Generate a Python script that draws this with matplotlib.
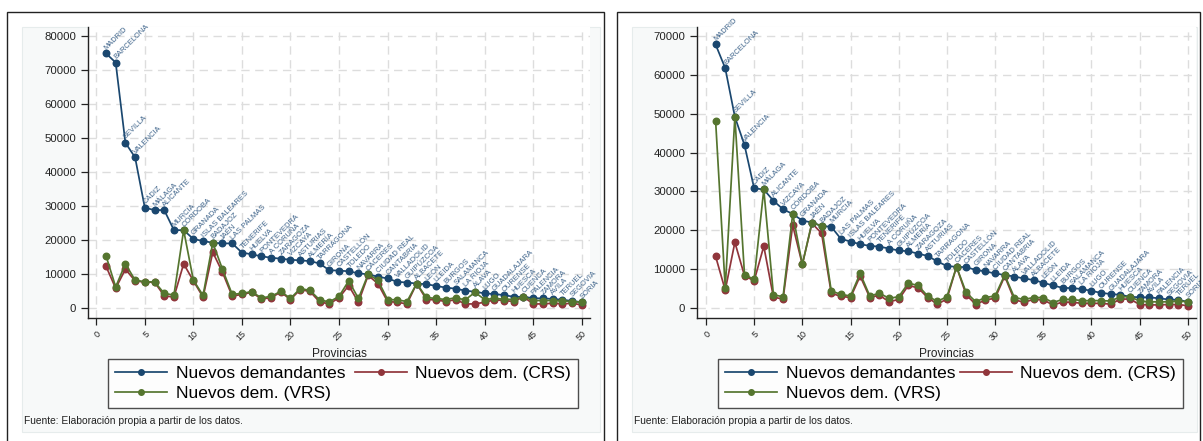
import matplotlib
matplotlib.use("Agg")
import matplotlib.pyplot as plt
from matplotlib.patches import Rectangle

plt.rcParams['font.family'] = ['Liberation Sans', 'DejaVu Sans']

# ---- Data: left panel ----
left_provinces = ["MADRID", "BARCELONA", "SEVILLA", "VALENCIA", "CÁDIZ", "MÁLAGA", "ALICANTE",
                  "MURCIA", "CÓRDOBA", "GRANADA", "ISLAS BALEARES", "BADAJOZ", "JAÉN", "LAS PALMAS",
                  "TENERIFE", "HUELVA", "PONTEVEDRA", "A CORUÑA", "ZARAGOZA", "VIZCAYA", "ASTURIAS",
                  "ALMERÍA", "TARRAGONA", "GIRONA", "CASTELLÓN", "TOLEDO", "NAVARRA", "CÁCERES",
                  "CIUDAD REAL", "CANTABRIA", "VALLADOLID", "GUIPÚZCOA", "ALBACETE", "LEÓN", "LLEIDA",
                  "BURGOS", "SALAMANCA", "LA RIOJA", "ÁLAVA", "LUGO", "GUADALAJARA", "OURENSE",
                  "HUESCA", "CUENCA", "PALENCIA", "ZAMORA", "ÁVILA", "TERUEL", "SEGOVIA", "SORIA"]
left_demandantes = [74900, 72200, 48600, 44300, 29500, 28800, 28800, 22900, 22900, 20300,
                    19700, 19200, 19000, 19000, 16300, 15800, 15200, 14800, 14500, 14200,
                    14000, 13800, 13100, 11100, 11000, 10800, 10200, 9900, 9200, 8700,
                    7700, 7500, 7200, 7000, 6500, 6000, 5700, 5100, 4800, 4300,
                    4100, 3800, 3300, 3300, 2900, 2800, 2700, 2400, 2100, 1700]
left_crs = [12300, 5800, 11400, 8000, 7600, 7600, 3600, 3200, 13000, 8000,
            3200, 16400, 10500, 3500, 4000, 4600, 2700, 3000, 4700, 2500,
            5400, 4900, 1800, 1200, 3000, 6600, 1700, 9600, 7200, 1900,
            1700, 1200, 7200, 2500, 2400, 1900, 2500, 1200, 1200, 1700,
            2400, 2200, 1900, 3300, 1200, 1200, 1400, 1200, 1400, 900]
left_vrs = [15400, 6200, 13000, 8200, 7700, 7700, 4300, 3800, 22900, 8200,
            3700, 19200, 11400, 4000, 4300, 4800, 3000, 3400, 4900, 2800,
            5700, 5200, 2400, 1800, 3400, 8000, 2800, 9900, 8200, 2500,
            2400, 1900, 7200, 3100, 2800, 2500, 3000, 2400, 4600, 2500,
            2800, 2600, 2500, 3300, 2200, 2200, 2200, 2100, 1900, 1700]

# ---- Data: right panel ----
right_provinces = ["MADRID", "BARCELONA", "SEVILLA", "VALENCIA", "CÁDIZ", "MÁLAGA", "ALICANTE",
                   "VIZCAYA", "CÓRDOBA", "GRANADA", "JAÉN", "BADAJOZ", "MURCIA", "LAS PALMAS",
                   "ISLAS BALEARES", "HUELVA", "PONTEVEDRA", "TENERIFE", "A CORUÑA", "GUIPÚZCOA",
                   "ALMERÍA", "ZARAGOZA", "ASTURIAS", "TARRAGONA", "TOLEDO", "CÁCERES", "CASTELLÓN",
                   "GIRONA", "NAVARRA", "CIUDAD REAL", "CANTABRIA", "ÁLAVA", "VALLADOLID", "ALBACETE",
                   "LEÓN", "LLEIDA", "BURGOS", "SALAMANCA", "LA RIOJA", "LUGO", "OURENSE",
                   "GUADALAJARA", "HUESCA", "CUENCA", "ZAMORA", "ÁVILA", "PALENCIA", "SEGOVIA",
                   "TERUEL", "SORIA"]
right_demandantes = [67800, 61700, 49200, 41900, 30800, 30500, 27600, 25400, 24200, 22500,
                     22000, 21100, 20900, 17800, 17100, 16400, 16000, 15800, 15300, 14800,
                     14600, 14000, 13400, 12000, 10800, 10600, 10500, 9800, 9400, 8900,
                     8500, 8100, 7600, 7200, 6500, 5800, 5200, 5100, 4900, 4400,
                     3900, 3600, 3400, 2900, 2750, 2750, 2500, 2200, 2100, 1600]
right_crs = [13300, 4600, 16900, 8300, 7000, 15900, 2800, 2300, 21300, 11200,
             21800, 19200, 3800, 3000, 2700, 8200, 2700, 3300, 1600, 2200,
             5800, 5200, 2700, 1000, 2300, 10600, 3400, 900, 2100, 2500,
             8200, 2100, 1500, 2200, 2100, 800, 1500, 1500, 1200, 1200,
             1200, 1000, 2300, 2300, 900, 800, 800, 900, 900, 600]
right_vrs = [48200, 5100, 49200, 8500, 7400, 30500, 3400, 2900, 24200, 11200,
             22000, 21100, 4400, 3500, 3100, 8900, 3100, 3800, 2500, 2900,
             6400, 5800, 3100, 1700, 2900, 10600, 4000, 1600, 2700, 3100,
             8500, 2700, 2200, 2700, 2700, 1400, 2200, 2200, 1900, 1900,
             1900, 1800, 2900, 2900, 1800, 1600, 1600, 1600, 1800, 1600]

series_names = ["Nuevos demandantes", "Nuevos dem. (CRS)", "Nuevos dem. (VRS)"]
x_ticks = list(range(0, 51, 5))
left_yticks = list(range(0, 80001, 10000))
right_yticks = list(range(0, 70001, 10000))
source_note = "Fuente: Elaboración propia a partir de los datos."
x_title = "Provincias"

# ---- Style ----
NAVY = "#1a476f"
MAROON = "#90353b"
GREEN = "#55752f"
LABEL_COLOR = "#3d638a"

W, H = 1203, 441
fig = plt.figure(figsize=(W / 100, H / 100), dpi=100)
fig.patch.set_facecolor("white")


def fx(px):
    return px / W


def fy(py):
    return 1 - py / H


def add_rect(x0, y0, x1, y1, **kw):
    r = Rectangle((fx(x0), fy(y1)), fx(x1) - fx(x0), fy(y0) - fy(y1),
                  transform=fig.transFigure, figure=fig, **kw)
    fig.patches.append(r)
    return r


def panel(frame, inner, ax_box, xlim, ylim, yticks, provinces, dem, crs, vrs,
          legend_box, note_xy):
    # outer frame and inner graph region, kept underneath the axes
    outer = add_rect(*frame, facecolor="white", edgecolor="#222222", linewidth=1.0, zorder=-3)
    add_rect(*inner, facecolor="#f7f9f9", edgecolor="#e6ecec", linewidth=0.8, zorder=-2)

    x0, y0, x1, y1 = ax_box
    ax = fig.add_axes([fx(x0), fy(y1), fx(x1) - fx(x0), fy(y0) - fy(y1)])
    ax.set_zorder(1)
    ax.set_facecolor("white")
    idx = list(range(1, len(dem) + 1))

    style = dict(marker="o", markersize=4.7, linewidth=1.25)
    l_dem, = ax.plot(idx, dem, color=NAVY, zorder=4, **style)
    l_crs, = ax.plot(idx, crs, color=MAROON, zorder=3, **style)
    l_vrs, = ax.plot(idx, vrs, color=GREEN, zorder=5, **style)

    # province names along the total series, kept within the panel frame
    for i, name, v in zip(idx, provinces, dem):
        t = ax.annotate(name, (i, v), xytext=(1.5, 1.5), textcoords="offset points",
                        rotation=45, rotation_mode="anchor", ha="left", va="bottom",
                        fontsize=5.4, color=LABEL_COLOR, zorder=6, annotation_clip=False)
        t.set_clip_path(outer)

    ax.set_xlim(*xlim)
    ax.set_ylim(*ylim)
    ax.set_xticks(x_ticks)
    ax.set_yticks(yticks)
    ax.set_xticklabels([str(t) for t in x_ticks], rotation=45, ha="right",
                       rotation_mode="anchor", fontsize=6.5, color="#222222")
    ax.set_yticklabels([str(t) for t in yticks], fontsize=8.2, color="#222222")
    ax.tick_params(axis="both", direction="out", length=5, width=0.9, color="#222222")
    ax.tick_params(axis="x", pad=3)
    ax.grid(True, color="#dddddd", linestyle=(0, (6, 4)), linewidth=1.0, zorder=0)
    ax.set_axisbelow(True)
    for s in ("top", "right"):
        ax.spines[s].set_visible(False)
    for s in ("left", "bottom"):
        ax.spines[s].set_color("#222222")
        ax.spines[s].set_linewidth(1.0)
    ax.set_xlabel(x_title, fontsize=8.6, color="#222222", labelpad=4)

    lx0, ly0, lx1, ly1 = legend_box
    leg = ax.legend([l_dem, l_vrs, l_crs],
                    [series_names[0], series_names[2], series_names[1]],
                    loc="upper left", ncol=2, mode="expand",
                    bbox_to_anchor=(fx(lx0), fy(ly1), fx(lx1) - fx(lx0), fy(ly0) - fy(ly1)),
                    bbox_transform=fig.transFigure, borderaxespad=0,
                    fontsize=12.5, handlelength=3.0, handletextpad=0.5,
                    labelspacing=0.3, borderpad=0.4, columnspacing=1.0,
                    frameon=True, fancybox=False, edgecolor="#222222")
    leg.get_frame().set_linewidth(1.0)
    for h in leg.legend_handles:
        h.set_markersize(4.0)

    fig.text(fx(note_xy[0]), fy(note_xy[1]), source_note, fontsize=7.4,
             color="#222222", ha="left", va="center")
    return ax


panel(frame=(7, 12, 604, 445), inner=(22, 27, 600, 432), ax_box=(88, 27, 590, 318),
      xlim=(-0.85, 50.85), ylim=(-2940, 82650), yticks=left_yticks,
      provinces=left_provinces, dem=left_demandantes, crs=left_crs, vrs=left_vrs,
      legend_box=(108, 359, 578, 411), note_xy=(24, 421))

panel(frame=(617, 12, 1200, 445), inner=(632, 27, 1197, 432), ax_box=(697, 27, 1196, 318),
      xlim=(-0.93, 50.85), ylim=(-2570, 72300), yticks=right_yticks,
      provinces=right_provinces, dem=right_demandantes, crs=right_crs, vrs=right_vrs,
      legend_box=(718, 359, 1183, 411), note_xy=(634, 421))

fig.savefig("out.png", dpi=100, facecolor="white")
